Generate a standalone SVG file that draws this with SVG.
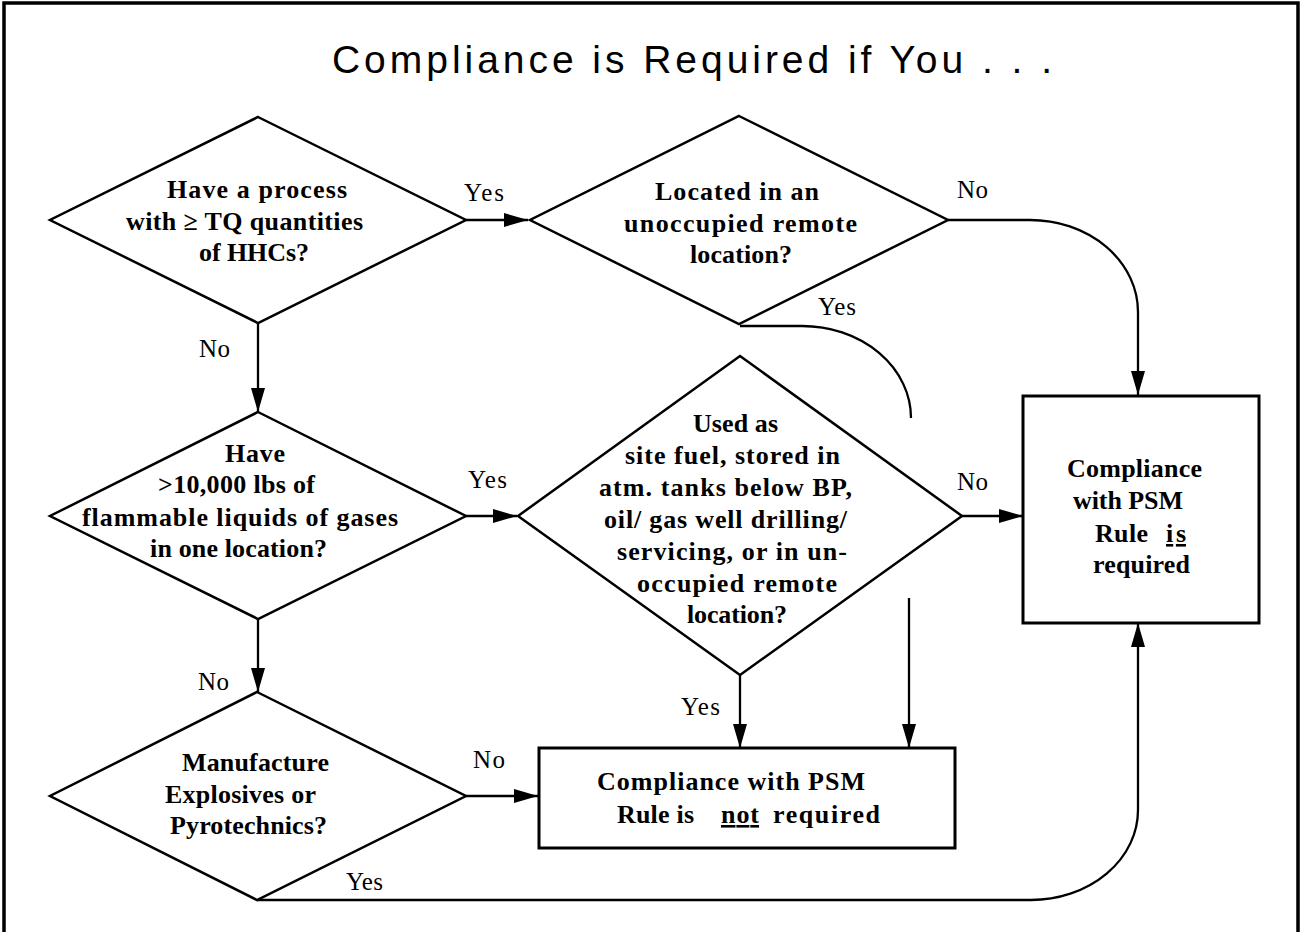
<svg xmlns="http://www.w3.org/2000/svg" width="1301" height="932" viewBox="0 0 1301 932">
<style>
.frame{fill:none;stroke:#000;stroke-width:3.5}
.shape{fill:#fff;stroke:#000;stroke-width:2.5}
.box{fill:#fff;stroke:#000;stroke-width:3}
.conn{fill:none;stroke:#000;stroke-width:2.3}
.t{font-family:"Liberation Serif","Times New Roman",serif;font-weight:bold;font-size:26px;fill:#000}
.lbl{font-family:"Liberation Serif","Times New Roman",serif;font-size:25px;fill:#000}
.title{font-family:"Liberation Sans",Arial,sans-serif;font-size:39px;fill:#000}
</style>
<defs>
<marker id="arr" markerUnits="userSpaceOnUse" markerWidth="24" markerHeight="14" refX="24" refY="7" orient="auto">
<path d="M0,0 L24,7 L0,14 z" fill="#000"/>
</marker>
</defs>
<path class="frame" d="M4,940 V3 H1298 V940"/>
<text class="title" x="332" y="73" textLength="720" lengthAdjust="spacing">Compliance is Required if You . . .</text>

<g id="connectors">
<path class="conn" d="M466,220 H528" marker-end="url(#arr)"/>
<path class="conn" d="M948,220 H1030 A108,92 0 0 1 1138,312 V395" marker-end="url(#arr)"/>
<path class="conn" d="M740,326 H802 A109,92 0 0 1 911,418"/>
<path class="conn" d="M909,598 V748" marker-end="url(#arr)"/>
<path class="conn" d="M258,323 V412" marker-end="url(#arr)"/>
<path class="conn" d="M466,516 H517" marker-end="url(#arr)"/>
<path class="conn" d="M962,516 H1023" marker-end="url(#arr)"/>
<path class="conn" d="M740,675 V748" marker-end="url(#arr)"/>
<path class="conn" d="M258,619 V692" marker-end="url(#arr)"/>
<path class="conn" d="M466,796 H538" marker-end="url(#arr)"/>
<path class="conn" d="M257,900 H1031 A107,90 0 0 0 1138,810 V623" marker-end="url(#arr)"/>
<text class="lbl" x="464" y="201" textLength="40" lengthAdjust="spacing">Yes</text>
<text class="lbl" x="957" y="198" textLength="31" lengthAdjust="spacing">No</text>
<text class="lbl" x="818" y="315" textLength="38" lengthAdjust="spacing">Yes</text>
<text class="lbl" x="199" y="357" textLength="31" lengthAdjust="spacing">No</text>
<text class="lbl" x="468" y="488" textLength="39" lengthAdjust="spacing">Yes</text>
<text class="lbl" x="957" y="490" textLength="31" lengthAdjust="spacing">No</text>
<text class="lbl" x="198" y="690" textLength="31" lengthAdjust="spacing">No</text>
<text class="lbl" x="681" y="715" textLength="39" lengthAdjust="spacing">Yes</text>
<text class="lbl" x="473" y="768" textLength="32" lengthAdjust="spacing">No</text>
<text class="lbl" x="346" y="890" textLength="37" lengthAdjust="spacing">Yes</text>
</g>

<g id="d1">
<polygon class="shape" points="258,117 466,220 258,323 50,220"/>
<text class="t" x="167" y="198" textLength="180" lengthAdjust="spacing">Have a process</text>
<text class="t" x="126" y="230" textLength="237" lengthAdjust="spacing">with ≥ TQ quantities</text>
<text class="t" x="199" y="261" textLength="110" lengthAdjust="spacing">of HHCs?</text>
</g>

<g id="d2">
<polygon class="shape" points="739,116 948,220 739,324 530,220"/>
<text class="t" x="655" y="200" textLength="164" lengthAdjust="spacing">Located in an</text>
<text class="t" x="624" y="232" textLength="233" lengthAdjust="spacing">unoccupied remote</text>
<text class="t" x="690" y="263" textLength="102" lengthAdjust="spacing">location?</text>
</g>

<g id="d3">
<polygon class="shape" points="258,412 466,516 258,619 50,516"/>
<text class="t" x="225" y="462" textLength="60" lengthAdjust="spacing">Have</text>
<text class="t" x="158" y="493" textLength="157" lengthAdjust="spacing">&gt;10,000 lbs of</text>
<text class="t" x="82" y="526" textLength="316" lengthAdjust="spacing">flammable liquids of gases</text>
<text class="t" x="150" y="557" textLength="177" lengthAdjust="spacing">in one location?</text>
</g>

<g id="d4">
<polygon class="shape" points="740,356 962,516 740,675 518,516"/>
<text class="t" x="693" y="432" textLength="85" lengthAdjust="spacing">Used as</text>
<text class="t" x="625" y="464" textLength="215" lengthAdjust="spacing">site fuel, stored in</text>
<text class="t" x="599" y="496" textLength="253" lengthAdjust="spacing">atm. tanks below BP,</text>
<text class="t" x="604" y="528" textLength="243" lengthAdjust="spacing">oil/ gas well drilling/</text>
<text class="t" x="617" y="560" textLength="230" lengthAdjust="spacing">servicing, or in un-</text>
<text class="t" x="637" y="592" textLength="200" lengthAdjust="spacing">occupied remote</text>
<text class="t" x="687" y="623" textLength="100" lengthAdjust="spacing">location?</text>
</g>

<g id="d5">
<polygon class="shape" points="257,692 466,796 257,900 50,796"/>
<text class="t" x="182" y="771" textLength="147" lengthAdjust="spacing">Manufacture</text>
<text class="t" x="165" y="803" textLength="151" lengthAdjust="spacing">Explosives or</text>
<text class="t" x="170" y="834" textLength="157" lengthAdjust="spacing">Pyrotechnics?</text>
</g>

<g id="required">
<rect class="box" x="1023" y="396" width="236" height="227"/>
<text class="t" x="1067" y="477" textLength="135" lengthAdjust="spacing">Compliance</text>
<text class="t" x="1073" y="509" textLength="110" lengthAdjust="spacing">with PSM</text>
<text class="t" x="1095" y="542" textLength="53" lengthAdjust="spacing">Rule</text>
<text class="t" x="1166" y="542" textLength="20" lengthAdjust="spacing" text-decoration="underline">is</text>
<text class="t" x="1093" y="573" textLength="97" lengthAdjust="spacing">required</text>
</g>

<g id="not-required">
<rect class="box" x="539" y="748" width="416" height="100"/>
<text class="t" x="597" y="790" textLength="268" lengthAdjust="spacing">Compliance with PSM</text>
<text class="t" x="617" y="823" textLength="77" lengthAdjust="spacing">Rule is</text>
<text class="t" x="721" y="823" textLength="38" lengthAdjust="spacing" text-decoration="underline">not</text>
<text class="t" x="773" y="823" textLength="107" lengthAdjust="spacing">required</text>
</g>
</svg>
